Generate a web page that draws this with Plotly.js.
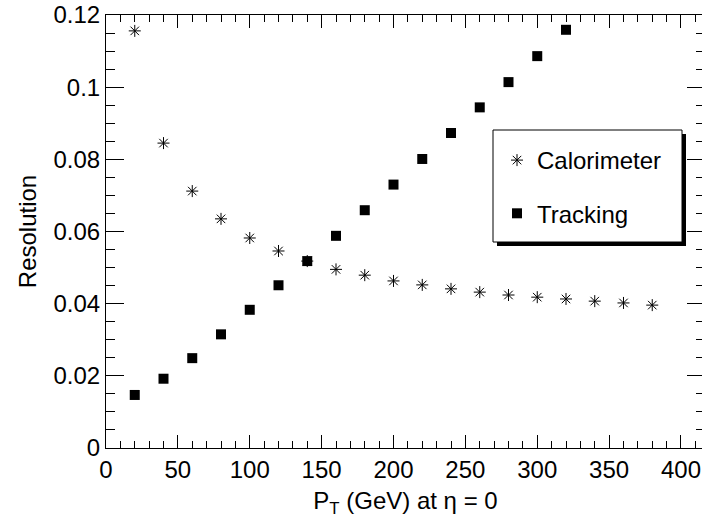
<!DOCTYPE html>
<html>
<head>
<meta charset="utf-8">
<script src="https://cdn.plot.ly/plotly-3.0.1.min.js"></script>
<style>
  html, body { margin: 0; padding: 0; overflow: hidden; background: #fff; }
  #chart { width: 712px; height: 525px; }
</style>
</head>
<body>
<div id="chart"></div>
<script>
// Data
const pt = [20, 40, 60, 80, 100, 120, 140, 160, 180, 200, 220, 240, 260, 280, 300, 320, 340, 360, 380];
const calorimeter = [0.1156, 0.0845, 0.0712, 0.0635, 0.0582, 0.0546, 0.0518, 0.0495, 0.0479, 0.0463, 0.0452, 0.0441, 0.0432, 0.0424, 0.0418, 0.0413, 0.0407, 0.0402, 0.0396];
const ptTracking = [20, 40, 60, 80, 100, 120, 140, 160, 180, 200, 220, 240, 260, 280, 300, 320];
const tracking = [0.0147, 0.0192, 0.0249, 0.0315, 0.0383, 0.0451, 0.0518, 0.0588, 0.0659, 0.0730, 0.0801, 0.0873, 0.0944, 0.1014, 0.1086, 0.1159];
const xTickVals = [0, 50, 100, 150, 200, 250, 300, 350, 400];
const yTickVals = [0, 0.02, 0.04, 0.06, 0.08, 0.1, 0.12];
const yTickText = ['0', '0.02', '0.04', '0.06', '0.08', '0.1', '0.12'];

const FONT = 'Liberation Sans, Arial, Helvetica, sans-serif';
const FS = 24;

const traces = [
  {
    x: pt, y: calorimeter, type: 'scatter', mode: 'markers', name: 'Calorimeter',
    legendgroup: 'a',
    marker: { symbol: 'asterisk-open', size: 10, color: '#000', line: { color: '#000', width: 1 } }
  },
  {
    x: ptTracking, y: tracking, type: 'scatter', mode: 'markers', name: 'Tracking',
    legendgroup: 'b',
    marker: { symbol: 'square', size: 10, color: '#000' }
  }
];

const layout = {
  width: 712, height: 525,
  margin: { l: 106, r: 7, t: 15, b: 77 },
  paper_bgcolor: '#fff', plot_bgcolor: '#fff',
  font: { family: FONT, size: FS, color: '#000' },
  showlegend: true,
  legend: {
    x: (497 - 106) / 599, y: (448 - 138) / 433, xanchor: 'left', yanchor: 'top',
    bgcolor: 'rgba(0,0,0,0)', borderwidth: 0,
    font: { family: FONT, size: FS, color: '#000' },
    traceorder: 'grouped', tracegroupgap: 19
  },
  xaxis: {
    range: [0, 416.7], showgrid: false, zeroline: false,
    showline: true, linecolor: '#000', linewidth: 1, mirror: 'ticks',
    ticks: 'inside', ticklen: 13, tickwidth: 1, tickcolor: '#000',
    tickvals: xTickVals, ticktext: xTickVals.map(String),
    tickfont: { family: FONT, size: FS },
    minor: { dtick: 10, ticks: 'inside', ticklen: 7, tickcolor: '#000', tickwidth: 1, showgrid: false },
    title: { text: 'P<sub>T</sub> (GeV) at η = 0', font: { family: FONT, size: FS }, standoff: 10 }
  },
  yaxis: {
    range: [0, 0.12], showgrid: false, zeroline: false,
    showline: true, linecolor: '#000', linewidth: 1, mirror: 'ticks',
    ticks: 'inside', ticklen: 18, tickwidth: 1, tickcolor: '#000',
    tickvals: yTickVals, ticktext: yTickText,
    tickfont: { family: FONT, size: FS },
    minor: { dtick: 0.005, ticks: 'inside', ticklen: 9, tickcolor: '#000', tickwidth: 1, showgrid: false },
    title: { text: 'Resolution', font: { family: FONT, size: FS }, standoff: 10 }
  },
  shapes: [
    { type: 'rect', xref: 'paper', yref: 'paper',
      x0: (497 - 106) / 599, x1: (686 - 106) / 599, y0: (448 - 246) / 433, y1: (448 - 134) / 433,
      fillcolor: '#000', line: { width: 0 }, layer: 'above' },
    { type: 'rect', xref: 'paper', yref: 'paper',
      x0: (493 - 106) / 599, x1: (682 - 106) / 599, y0: (448 - 242) / 433, y1: (448 - 130) / 433,
      fillcolor: '#fff', line: { color: '#000', width: 1 }, layer: 'above' }
  ]
};

Plotly.newPlot('chart', traces, layout, { displayModeBar: false, staticPlot: true });
</script>
</body>
</html>
